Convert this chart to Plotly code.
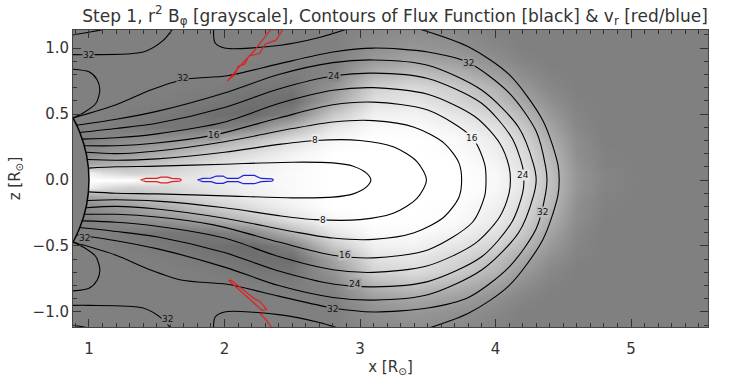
import bisect
import plotly.graph_objects as go

# ---------------- grayscale field (r^2 B_phi), read on a coarse grid (upper half, mirrored) -------------
gx = [0.80, 1.0, 1.1, 1.3, 1.6, 1.9, 2.2, 2.5, 2.8, 3.1, 3.4, 3.7, 4.0, 4.2, 4.4, 4.6, 4.8, 5.1, 5.65]
gz_up = [0.0, 0.05, 0.12, 0.2, 0.3, 0.4, 0.5, 0.6, 0.7, 0.8, 0.9, 1.0, 1.2]
gray_up = [
    [0.5, 1.0, 1.0, 1.0, 0.90, 0.92, 0.95, 0.98, 1.0, 1.0, 1.0, 1.0, 0.97, 0.90, 0.75, 0.58, 0.52, 0.5, 0.5],
    [0.5, 0.95, 0.88, 0.82, 0.85, 0.90, 0.95, 0.98, 1.0, 1.0, 1.0, 1.0, 0.97, 0.90, 0.75, 0.58, 0.52, 0.5, 0.5],
    [0.5, 0.65, 0.68, 0.72, 0.80, 0.87, 0.93, 0.97, 1.0, 1.0, 1.0, 1.0, 0.96, 0.88, 0.74, 0.57, 0.51, 0.5, 0.5],
    [0.5, 0.55, 0.58, 0.62, 0.70, 0.80, 0.88, 0.95, 1.0, 1.0, 1.0, 0.99, 0.94, 0.86, 0.72, 0.56, 0.51, 0.5, 0.5],
    [0.5, 0.5, 0.52, 0.55, 0.58, 0.65, 0.75, 0.88, 0.97, 1.0, 1.0, 0.98, 0.92, 0.83, 0.68, 0.55, 0.5, 0.5, 0.5],
    [0.5, 0.5, 0.5, 0.48, 0.46, 0.47, 0.53, 0.70, 0.90, 0.98, 0.98, 0.95, 0.88, 0.78, 0.64, 0.53, 0.5, 0.5, 0.5],
    [0.5, 0.5, 0.5, 0.49, 0.47, 0.44, 0.42, 0.50, 0.78, 0.94, 0.95, 0.90, 0.82, 0.72, 0.60, 0.52, 0.5, 0.5, 0.5],
    [0.5, 0.5, 0.5, 0.5, 0.49, 0.47, 0.44, 0.43, 0.64, 0.88, 0.90, 0.84, 0.75, 0.65, 0.56, 0.51, 0.5, 0.5, 0.5],
    [0.5, 0.5, 0.5, 0.5, 0.5, 0.49, 0.47, 0.46, 0.58, 0.82, 0.86, 0.80, 0.70, 0.60, 0.53, 0.5, 0.5, 0.5, 0.5],
    [0.5, 0.5, 0.5, 0.5, 0.5, 0.5, 0.5, 0.49, 0.52, 0.70, 0.75, 0.70, 0.62, 0.55, 0.51, 0.5, 0.5, 0.5, 0.5],
    [0.5, 0.5, 0.5, 0.5, 0.5, 0.5, 0.5, 0.5, 0.5, 0.61, 0.65, 0.62, 0.56, 0.52, 0.5, 0.5, 0.5, 0.5, 0.5],
    [0.5, 0.5, 0.5, 0.5, 0.5, 0.5, 0.5, 0.5, 0.5, 0.56, 0.59, 0.57, 0.53, 0.5, 0.5, 0.5, 0.5, 0.5, 0.5],
    [0.5, 0.5, 0.5, 0.5, 0.5, 0.5, 0.5, 0.5, 0.5, 0.52, 0.53, 0.52, 0.5, 0.5, 0.5, 0.5, 0.5, 0.5, 0.5],
]

# ---------------- flux-function contours: upper halves of closed loops (mirrored below) -------------
loop_levels = [4, 8, 12, 16, 20, 24, 28, 32]
loops_up = [
    [(0.996, 0.09), (1.2, 0.10), (1.5, 0.105), (2.0, 0.12), (2.5, 0.135), (2.8, 0.13), (2.95, 0.105), (3.05, 0.05), (3.08, 0.0)],
    [(0.988, 0.155), (1.2, 0.15), (1.5, 0.16), (2.0, 0.21), (2.4, 0.27), (2.67, 0.30), (3.0, 0.30), (3.25, 0.25), (3.42, 0.14), (3.49, 0.0)],
    [(0.978, 0.21), (1.2, 0.20), (1.5, 0.22), (2.0, 0.29), (2.5, 0.39), (2.8, 0.44), (3.1, 0.45), (3.4, 0.40), (3.62, 0.28), (3.73, 0.13), (3.75, 0.0)],
    [(0.965, 0.26), (1.2, 0.26), (1.5, 0.28), (1.92, 0.34), (2.4, 0.47), (2.8, 0.57), (3.1, 0.59), (3.5, 0.53), (3.83, 0.32), (3.92, 0.12), (3.93, 0.0)],
    [(0.950, 0.31), (1.2, 0.32), (1.5, 0.35), (2.0, 0.44), (2.4, 0.58), (2.8, 0.68), (3.1, 0.70), (3.5, 0.65), (3.85, 0.48), (4.03, 0.28), (4.10, 0.10), (4.11, 0.0)],
    [(0.933, 0.36), (1.2, 0.39), (1.5, 0.43), (2.0, 0.55), (2.4, 0.69), (2.81, 0.79), (3.1, 0.81), (3.5, 0.77), (3.9, 0.58), (4.12, 0.32), (4.20, 0.10), (4.21, 0.0)],
    [(0.910, 0.415), (1.2, 0.46), (1.5, 0.52), (2.0, 0.66), (2.4, 0.80), (2.8, 0.89), (3.1, 0.91), (3.5, 0.87), (3.9, 0.68), (4.17, 0.40), (4.28, 0.12), (4.30, 0.0)],
    [(0.882, 0.47), (1.2, 0.57), (1.45, 0.68), (1.69, 0.76), (2.02, 0.79), (2.4, 0.88), (2.8, 0.97), (3.1, 1.00), (3.5, 0.97), (3.8, 0.89), (4.1, 0.66), (4.3, 0.37), (4.37, 0.10), (4.38, 0.0)],
]

# open field lines (upper half, mirrored)
open_up = [
    [(0.88, 1.10), (1.0, 1.12), (1.15, 1.15)],
    [(0.88, 0.95), (1.0, 0.95), (1.4, 0.97), (1.55, 1.06), (1.62, 1.15)],
    [(0.88, 0.84), (1.0, 0.82), (1.06, 0.76), (1.08, 0.68), (1.05, 0.58), (0.96, 0.51), (0.882, 0.47)],
    [(1.92, 1.16), (1.93, 1.04), (2.0, 1.0), (2.4, 1.02), (2.7, 1.08), (2.95, 1.16)],
]
# outermost (36) contour right arc, upper half (mirrored)
outer_up = [(3.39, 1.16), (3.8, 1.01), (4.1, 0.80), (4.35, 0.45), (4.46, 0.12), (4.47, 0.0)]

# contour labels (text, x, z)
labels = [
    ("32", 1.0, 0.95), ("32", 1.69, 0.77), ("24", 2.81, 0.79), ("16", 1.92, 0.34), ("8", 2.67, 0.30),
    ("32", 3.80, 0.89), ("16", 3.83, 0.32), ("24", 4.20, 0.04),
    ("32", 0.97, -0.44), ("8", 2.73, -0.30), ("16", 2.89, -0.57), ("24", 2.96, -0.79), ("32", 2.80, -0.98),
    ("32", 4.35, -0.24), ("32", 1.58, -1.05),
]

# ---------------- v_r contours ----------------
red_eq = [(1.38, 0.0), (1.42, 0.012), (1.50, 0.012), (1.53, 0.022), (1.58, 0.022), (1.61, 0.012), (1.67, 0.008), (1.68, 0.0),
          (1.67, -0.008), (1.61, -0.012), (1.58, -0.022), (1.53, -0.022), (1.50, -0.012), (1.42, -0.012), (1.38, 0.0)]
blue_eq = [(1.80, 0.0), (1.84, 0.012), (1.90, 0.014), (1.94, 0.03), (1.99, 0.03), (2.02, 0.012), (2.10, 0.012), (2.14, 0.035),
           (2.22, 0.035), (2.27, 0.012), (2.35, 0.008), (2.36, 0.0), (2.35, -0.008), (2.27, -0.012), (2.22, -0.028),
           (2.14, -0.028), (2.10, -0.012), (2.02, -0.012), (1.99, -0.025), (1.94, -0.025), (1.90, -0.012), (1.84, -0.012), (1.80, 0.0)]
red_top = [(2.02, 0.75), (2.12, 0.87), (2.22, 0.98), (2.34, 1.14), (2.43, 1.14), (2.38, 1.06), (2.30, 1.03), (2.26, 0.96),
           (2.18, 0.94), (2.15, 0.88), (2.10, 0.86), (2.08, 0.80), (2.04, 0.77), (2.02, 0.75)]
red_bot = [(2.03, -0.76), (2.14, -0.86), (2.22, -0.93), (2.28, -0.99), (2.31, -0.98), (2.26, -0.92), (2.22, -0.90),
           (2.17, -0.86), (2.08, -0.79), (2.05, -0.76), (2.03, -0.76)]
red_bot2 = [(2.26, -1.01), (2.30, -1.05), (2.35, -1.12)]

fig = go.Figure()

gz = [-z for z in reversed(gz_up[1:])] + gz_up
gray = [row for row in reversed(gray_up[1:])] + gray_up
fig.add_trace(go.Heatmap(x=gx, y=gz, z=gray, zmin=0, zmax=1, zsmooth="best",
                         colorscale=[[0, "black"], [1, "white"]], showscale=False, hoverinfo="skip"))

LINE = dict(color="black", width=1.1, shape="spline", smoothing=0.8)


def mirror_closed(pts):
    return list(pts) + [(x, -z) for (x, z) in reversed(pts[:-1])]


def local_gray(x, z):
    """Bilinear look-up in the grayscale grid, used only to colour the label boxes."""
    z = abs(z)
    i = min(max(bisect.bisect_right(gx, x) - 1, 0), len(gx) - 2)
    j = min(max(bisect.bisect_right(gz_up, z) - 1, 0), len(gz_up) - 2)
    tx = (x - gx[i]) / (gx[i + 1] - gx[i])
    tz = (z - gz_up[j]) / (gz_up[j + 1] - gz_up[j])
    v = ((1 - tx) * (1 - tz) * gray_up[j][i] + tx * (1 - tz) * gray_up[j][i + 1]
         + (1 - tx) * tz * gray_up[j + 1][i] + tx * tz * gray_up[j + 1][i + 1])
    g = int(round(255 * v))
    return f"rgb({g},{g},{g})"


for pts in loops_up:
    full = mirror_closed(pts)
    fig.add_trace(go.Scatter(x=[p[0] for p in full], y=[p[1] for p in full], mode="lines", line=LINE, hoverinfo="skip"))

full = mirror_closed(outer_up)
fig.add_trace(go.Scatter(x=[p[0] for p in full], y=[p[1] for p in full], mode="lines", line=LINE, hoverinfo="skip"))

for pts in open_up:
    for sgn in (1, -1):
        fig.add_trace(go.Scatter(x=[p[0] for p in pts], y=[sgn * p[1] for p in pts], mode="lines", line=LINE,
                                 hoverinfo="skip"))

for pts, col in ((red_eq, "#e02020"), (blue_eq, "#2020e0"), (red_top, "#e02020"), (red_bot, "#e02020"), (red_bot2, "#e02020")):
    fig.add_trace(go.Scatter(x=[p[0] for p in pts], y=[p[1] for p in pts], mode="lines",
                             line=dict(color=col, width=1.2), hoverinfo="skip"))

for txt, lx, lz in labels:
    fig.add_annotation(x=lx, y=lz, text=txt, showarrow=False, xref="x", yref="y",
                       bgcolor=local_gray(lx, lz), borderpad=0,
                       font=dict(size=9, color="#111", family="DejaVu Sans"))

# sun disc
fig.add_shape(type="circle", x0=-1, x1=1, y0=-1, y1=1, xref="x", yref="y",
              fillcolor="#808080", line=dict(color="black", width=1.5), layer="above")

axis_common = dict(showgrid=False, zeroline=False, ticks="inside", ticklen=8, tickcolor="#333",
                   mirror="ticks", showline=True, linecolor="#444", linewidth=1,
                   tickfont=dict(family="DejaVu Sans", size=15, color="#333"),
                   minor=dict(dtick=0.1, ticks="inside", ticklen=4, tickcolor="#333"))

fig.update_layout(
    width=737, height=385, margin=dict(l=73, r=29, t=30, b=52),
    paper_bgcolor="white", plot_bgcolor="#808080", showlegend=False,
    title=dict(text="Step 1, r<sup>2</sup> B<sub>φ</sub> [grayscale], Contours of Flux Function [black] &amp; v<sub>r</sub> [red/blue]",
               x=0.536, xanchor="center", y=0.975, yanchor="top",
               font=dict(family="DejaVu Sans", size=17, color="#333")),
    xaxis=dict(range=[0.882, 5.568], tickvals=[1, 2, 3, 4, 5], ticktext=["1", "2", "3", "4", "5"],
               ticklabelstandoff=8,
               title=dict(text="x [R<sub>⊙</sub>]", font=dict(family="DejaVu Sans", size=15, color="#333"), standoff=4),
               **axis_common),
    yaxis=dict(range=[-1.114, 1.137], tickvals=[-1.0, -0.5, 0.0, 0.5, 1.0], ticktext=["−1.0", "−0.5", "0.0", "0.5", "1.0"],
               title=dict(text="z [R<sub>⊙</sub>]", font=dict(family="DejaVu Sans", size=15, color="#333"), standoff=8),
               **axis_common),
)

fig.write_html("out.html")
